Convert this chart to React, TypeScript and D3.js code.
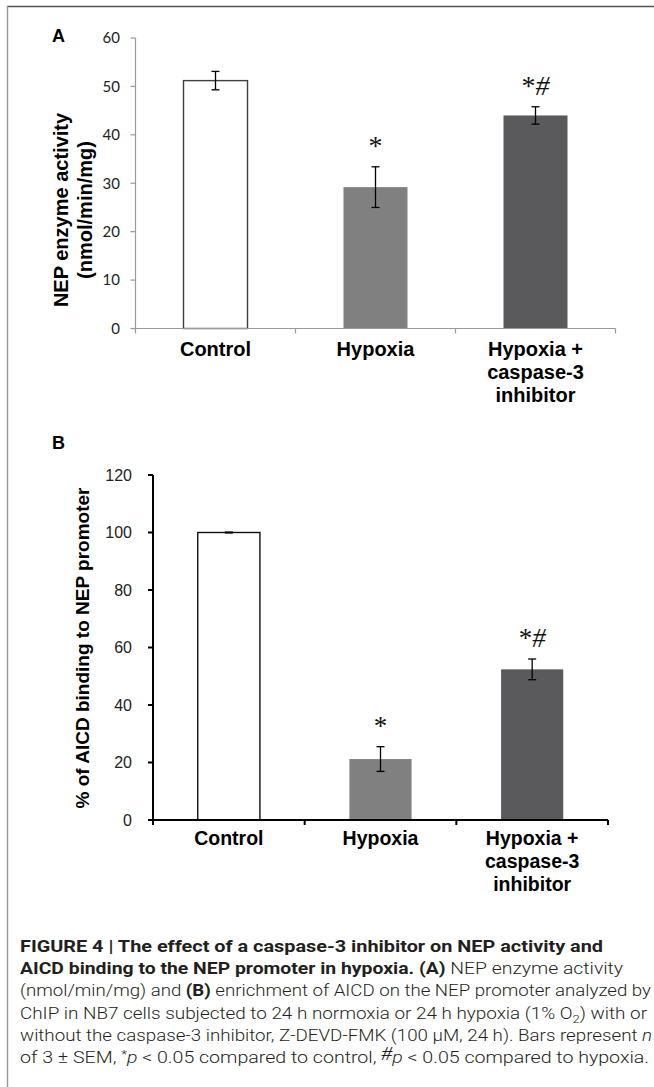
import React, { useEffect } from 'react';
import * as d3 from 'd3';

// chart values
const categories = ['Control', 'Hypoxia', 'Hypoxia + caspase-3 inhibitor'];
const categoryLines = [['Control'], ['Hypoxia'], ['Hypoxia +', 'caspase-3', 'inhibitor']];
const nepActivity = [51.2, 29.2, 44.0];
const nepSem = [1.9, 4.2, 1.8];
const aicdBinding = [100, 21.2, 52.4];
const aicdSem = [0.15, 4.3, 3.6];
const markers = ['', '*', '*#'];
const barFills = ['#ffffff', '#808080', '#5a5a5c'];
const ticksA = [0, 10, 20, 30, 40, 50, 60];
const ticksB = [0, 20, 40, 60, 80, 100, 120];

const W = 654;
const H = 1087;

const serif = '"Liberation Serif", "Times New Roman", serif';
const arial = '"Liberation Sans", Arial, sans-serif';

type PanelProps = {
  values: number[];
  sems: number[];
  ticks: number[];
  x0: number;
  x1: number;
  y0: number;
  y1: number;
  barRatio: number;
  axisColor: string;
  axisWidth: number;
  tickFont: string;
  tickSize: number;
  tickRight: number;
  catSize: number;
  catBaseline: number;
  outline: string;
  markerSize: number;
  markerGap: number;
};

const Panel = (p: PanelProps) => {
  const band = d3.scaleBand<string>().domain(categories).range([p.x0, p.x1]);
  const y = d3.scaleLinear().domain([p.ticks[0], p.ticks[p.ticks.length - 1]]).range([p.y0, p.y1]);
  const bw = band.bandwidth();
  const barW = bw * p.barRatio;
  const boundaries = categories.map((c) => band(c) as number).concat([p.x1]);

  return (
    <g>
      {categories.map((c, i) => {
        const cx = (band(c) as number) + bw / 2;
        const top = y(p.values[i]);
        const eTop = y(p.values[i] + p.sems[i]);
        const eBot = y(p.values[i] - p.sems[i]);
        return (
          <g key={c}>
            <rect
              x={cx - barW / 2}
              y={top}
              width={barW}
              height={y(0) - top}
              fill={barFills[i]}
              stroke={i === 0 ? p.outline : 'none'}
              strokeWidth={1.4}
            />
            <line x1={cx} x2={cx} y1={eTop} y2={eBot} stroke="#000" strokeWidth={1.3} />
            <line x1={cx - 4} x2={cx + 4} y1={eTop} y2={eTop} stroke="#000" strokeWidth={1.3} />
            <line x1={cx - 4} x2={cx + 4} y1={eBot} y2={eBot} stroke="#000" strokeWidth={1.3} />
            {markers[i] && (
              <text
                x={cx}
                y={eTop - p.markerGap}
                textAnchor="middle"
                fontFamily={serif}
                fontSize={p.markerSize}
                fill="#111"
              >
                {markers[i].split('').map((m, k) => (
                  <tspan key={k} fontStyle={m === '#' ? 'italic' : 'normal'}>{m}</tspan>
                ))}
              </text>
            )}
            {categoryLines[i].map((ln, k) => (
              <text
                key={k}
                x={cx}
                y={p.catBaseline + k * 23}
                textAnchor="middle"
                fontFamily={arial}
                fontWeight="bold"
                fontSize={p.catSize}
                fill="#000"
              >
                {ln}
              </text>
            ))}
          </g>
        );
      })}
      {/* axes */}
      <line x1={p.x0} x2={p.x0} y1={y(p.ticks[p.ticks.length - 1])} y2={y(0)} stroke={p.axisColor} strokeWidth={p.axisWidth} />
      <line x1={p.x0} x2={p.x1} y1={y(0)} y2={y(0)} stroke={p.axisColor} strokeWidth={p.axisWidth} />
      {p.ticks.map((t) => (
        <g key={t}>
          <line x1={p.x0 - 5} x2={p.x0} y1={y(t)} y2={y(t)} stroke={p.axisColor} strokeWidth={p.axisWidth} />
          <text
            x={p.tickRight}
            y={y(t)}
            dy="0.36em"
            textAnchor="end"
            fontFamily={p.tickFont}
            fontSize={p.tickSize}
            fill="#222"
          >
            {t}
          </text>
        </g>
      ))}
      {boundaries.map((bx, i) => (
        <line key={i} x1={bx} x2={bx} y1={y(0)} y2={y(0) + 5} stroke={p.axisColor} strokeWidth={p.axisWidth} />
      ))}
    </g>
  );
};

const App = () => {
  useEffect(() => {
    document.body.style.margin = '0';
  }, []);

  const cap = { fontFamily: 'Roboto, "Liberation Sans", sans-serif', fontSize: 16, fill: '#231f20' };

  return (
    <svg width={W} height={H} style={{ display: 'block', background: '#fff' }}>
      {/* frame */}
      <line x1={7} x2={W} y1={6.5} y2={6.5} stroke="#555" strokeWidth={1.4} />
      <line x1={7.5} x2={7.5} y1={6} y2={H} stroke="#999" strokeWidth={1.4} />

      {/* panel A */}
      <text x={52} y={42} fontFamily={arial} fontWeight="bold" fontSize={18}>A</text>
      <text transform="translate(68,210) rotate(-90)" textAnchor="middle" fontFamily={arial} fontWeight="bold" fontSize={20}>
        NEP enzyme activity
      </text>
      <text transform="translate(92,210) rotate(-90)" textAnchor="middle" fontFamily={arial} fontWeight="bold" fontSize={20}>
        (nmol/min/mg)
      </text>
      <Panel
        values={nepActivity}
        sems={nepSem}
        ticks={ticksA}
        x0={135.5}
        x1={615.5}
        y0={328.5}
        y1={38}
        barRatio={0.4}
        axisColor="#9a9a9a"
        axisWidth={1.2}
        tickFont="Lato, 'Open Sans', sans-serif"
        tickSize={15}
        tickRight={120}
        catSize={20}
        catBaseline={356}
        outline="#404040"
        markerSize={28}
        markerGap={12}
      />

      {/* panel B */}
      <text x={52} y={449} fontFamily={arial} fontWeight="bold" fontSize={18}>B</text>
      <text transform="translate(89,648) rotate(-90)" textAnchor="middle" fontFamily={arial} fontWeight="bold" fontSize={19}>
        % of AICD binding to NEP promoter
      </text>
      <Panel
        values={aicdBinding}
        sems={aicdSem}
        ticks={ticksB}
        x0={153}
        x1={608}
        y0={820}
        y1={475}
        barRatio={0.41}
        axisColor="#000"
        axisWidth={2}
        tickFont={arial}
        tickSize={16}
        tickRight={132}
        catSize={19.5}
        catBaseline={845}
        outline="#111"
        markerSize={27}
        markerGap={12}
      />

      {/* caption */}
      <text x={20} y={952} {...cap} fontWeight="bold" textLength={583} lengthAdjust="spacingAndGlyphs">
        FIGURE 4 | The effect of a caspase-3 inhibitor on NEP activity and
      </text>
      <text x={20} y={974} {...cap} textLength={603} lengthAdjust="spacingAndGlyphs">
        <tspan fontWeight="bold">AICD binding to the NEP promoter in hypoxia. (A)</tspan>
        <tspan fontWeight="300"> NEP enzyme activity</tspan>
      </text>
      <text x={20} y={996} {...cap} fontWeight="300" textLength={631} lengthAdjust="spacingAndGlyphs">
        (nmol/min/mg) and <tspan fontWeight="bold">(B)</tspan> enrichment of AICD on the NEP promoter analyzed by
      </text>
      <text x={20} y={1019} {...cap} fontWeight="300" textLength={627} lengthAdjust="spacingAndGlyphs">
        ChIP in NB7 cells subjected to 24 h normoxia or 24 h hypoxia (1% O<tspan fontSize={11} dy={4}>2</tspan>
        <tspan dy={-4}>) with or</tspan>
      </text>
      <text x={20} y={1041} {...cap} fontWeight="300" textLength={632} lengthAdjust="spacingAndGlyphs">
        without the caspase-3 inhibitor, Z-DEVD-FMK (100 μM, 24 h). Bars represent <tspan fontStyle="italic">n</tspan>
      </text>
      <text x={20} y={1063} {...cap} fontWeight="300" textLength={629} lengthAdjust="spacingAndGlyphs">
        of 3 ± SEM, <tspan fontSize={11} dy={-5}>*</tspan>
        <tspan dy={5} fontStyle="italic">p</tspan> &lt; 0.05 compared to control,{' '}
        <tspan fontFamily={serif} fontStyle="italic" fontSize={18} dy={-3}>#</tspan>
        <tspan dy={3} fontStyle="italic">p</tspan> &lt; 0.05 compared to hypoxia.
      </text>
    </svg>
  );
};

export default App;
